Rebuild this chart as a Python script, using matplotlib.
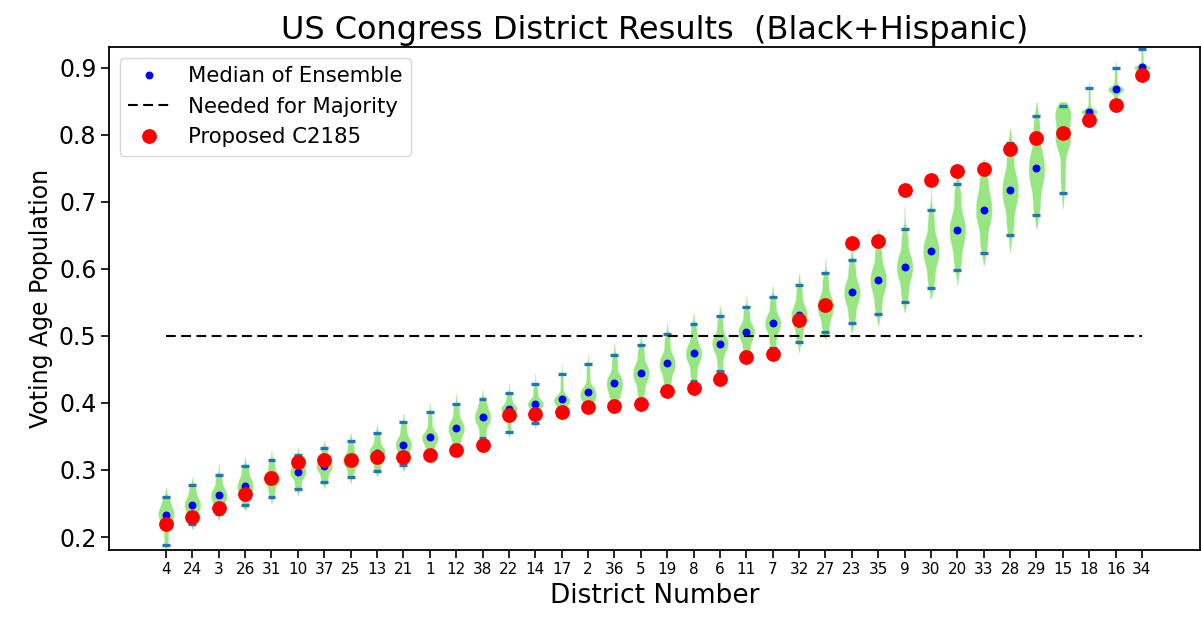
import numpy as np
import matplotlib
matplotlib.use('Agg')
import matplotlib.pyplot as plt

# ---------------- data ----------------
districts = ['4', '24', '3', '26', '31', '10', '37', '25', '13', '21', '1', '12', '38',
             '22', '14', '17', '2', '36', '5', '19', '8', '6', '11', '7', '32', '27',
             '23', '35', '9', '30', '20', '33', '28', '29', '15', '18', '16', '34']

# ensemble distribution summary per district
ens_tail_lo = [0.180, 0.212, 0.225, 0.240, 0.250, 0.262, 0.272, 0.280, 0.290, 0.298,
               0.318, 0.325, 0.338, 0.348, 0.362, 0.385, 0.390, 0.392, 0.398, 0.415,
               0.425, 0.437, 0.462, 0.472, 0.475, 0.495, 0.505, 0.515, 0.535, 0.555,
               0.575, 0.605, 0.625, 0.660, 0.690, 0.815, 0.840, 0.885]
ens_low = [0.188, 0.220, 0.235, 0.247, 0.260, 0.271, 0.282, 0.290, 0.2985, 0.3075,
           0.328, 0.337, 0.347, 0.357, 0.3706, 0.393, 0.400, 0.402, 0.4065, 0.425,
           0.433, 0.447, 0.472, 0.482, 0.4905, 0.5065, 0.519, 0.532, 0.551, 0.572,
           0.5985, 0.624, 0.651, 0.680, 0.7134, 0.822, 0.845, 0.888]
ens_q1 = [0.222, 0.238, 0.252, 0.266, 0.279, 0.289, 0.298, 0.307, 0.317, 0.328,
          0.341, 0.353, 0.368, 0.384, 0.392, 0.400, 0.408, 0.418, 0.432, 0.447,
          0.461, 0.476, 0.494, 0.507, 0.518, 0.531, 0.549, 0.566, 0.585, 0.608,
          0.637, 0.666, 0.695, 0.726, 0.780, 0.832, 0.865, 0.898]
ens_median = [0.233, 0.248, 0.262, 0.276, 0.287, 0.2975, 0.306, 0.315, 0.326, 0.338,
              0.349, 0.363, 0.3786, 0.391, 0.3985, 0.4055, 0.416, 0.430, 0.4448, 0.459,
              0.474, 0.4886, 0.506, 0.519, 0.531, 0.545, 0.565, 0.584, 0.603, 0.627,
              0.658, 0.688, 0.718, 0.750, 0.800, 0.835, 0.868, 0.901]
ens_q3 = [0.243, 0.258, 0.272, 0.287, 0.296, 0.306, 0.315, 0.324, 0.335, 0.348,
          0.358, 0.374, 0.389, 0.397, 0.405, 0.412, 0.425, 0.442, 0.458, 0.472,
          0.487, 0.500, 0.517, 0.531, 0.545, 0.560, 0.581, 0.602, 0.621, 0.646,
          0.680, 0.710, 0.741, 0.775, 0.828, 0.838, 0.871, 0.903]
ens_high = [0.260, 0.277, 0.2925, 0.306, 0.315, 0.322, 0.333, 0.344, 0.356, 0.371,
            0.3866, 0.398, 0.4055, 0.4144, 0.428, 0.444, 0.4587, 0.472, 0.486, 0.503,
            0.518, 0.530, 0.543, 0.559, 0.5766, 0.5935, 0.613, 0.640, 0.660, 0.6876,
            0.727, 0.745, 0.7886, 0.829, 0.843, 0.870, 0.900, 0.928]
ens_tail_hi = [0.275, 0.290, 0.310, 0.320, 0.330, 0.335, 0.345, 0.356, 0.370, 0.385,
               0.400, 0.415, 0.420, 0.430, 0.445, 0.460, 0.475, 0.490, 0.500, 0.520,
               0.535, 0.545, 0.560, 0.575, 0.595, 0.615, 0.635, 0.660, 0.695, 0.720,
               0.745, 0.765, 0.810, 0.850, 0.850, 0.880, 0.910, 0.935]

proposed = [0.220, 0.230, 0.244, 0.264, 0.2876, 0.312, 0.315, 0.315, 0.319, 0.319,
            0.323, 0.330, 0.337, 0.3816, 0.383, 0.387, 0.394, 0.396, 0.398, 0.418,
            0.423, 0.436, 0.468, 0.4736, 0.524, 0.546, 0.639, 0.642, 0.718, 0.733,
            0.746, 0.749, 0.7796, 0.795, 0.8025, 0.822, 0.844, 0.8896]

majority = 0.5
y_ticks = [0.2, 0.3, 0.4, 0.5, 0.6, 0.7, 0.8, 0.9]

# ---------------- build ensemble samples from the summaries ----------------
levels = [0.0, 0.02, 0.25, 0.5, 0.75, 0.98, 1.0]
N = 500
p = (np.arange(N) + 0.5) / N
samples = []
for vals in zip(ens_tail_lo, ens_low, ens_q1, ens_median, ens_q3, ens_high, ens_tail_hi):
    samples.append(np.interp(p, levels, vals))

positions = np.arange(1, len(districts) + 1)

# ---------------- figure ----------------
fig = plt.figure(figsize=(12.01, 6.24), dpi=100)
ax = fig.add_axes([109 / 1201, 74 / 624, (1200 - 109) / 1201, (550 - 47) / 624])

parts = ax.violinplot(samples, positions, widths=0.6, showextrema=False,
                      quantiles=[[0.02, 0.98]] * len(samples))
for body in parts['bodies']:
    body.set_facecolor('#97e682')
    body.set_edgecolor('#c9f2bd')
    body.set_linewidth(0.2)
    body.set_alpha(1.0)
parts['cquantiles'].set_color('#1f77b4')
parts['cquantiles'].set_linewidth(2.4)

ax.plot(positions, ens_median, 'b.', ms=9.4, label='Median of Ensemble', zorder=4)
ax.plot([positions[0], positions[-1]], [majority, majority], 'k--', lw=1.5,
        dashes=(4.7, 2.6), label='Needed for Majority', zorder=3)
ax.plot(positions, proposed, 'ro', ms=9.6, label='Proposed C2185', zorder=5)

ax.set_xlim(positions[0] - 2.16, positions[-1] + 2.2)
ax.set_ylim(0.1806, 0.9313)
ax.set_xticks(positions)
ax.set_xticklabels(districts, fontsize=11)
ax.set_yticks(y_ticks)
ax.set_yticklabels([f'{v:.1f}' for v in y_ticks], fontsize=17)
ax.tick_params(length=5.5, width=1.2)
for s in ax.spines.values():
    s.set_linewidth(1.3)

ax.set_xlabel('District Number', fontsize=19)
ax.set_ylabel('Voting Age Population', fontsize=17)
ax.set_title('US Congress District Results  (Black+Hispanic)', fontsize=23)
ax.legend(loc='upper left', fontsize=15.3)

fig.savefig('out.png', dpi=100)
